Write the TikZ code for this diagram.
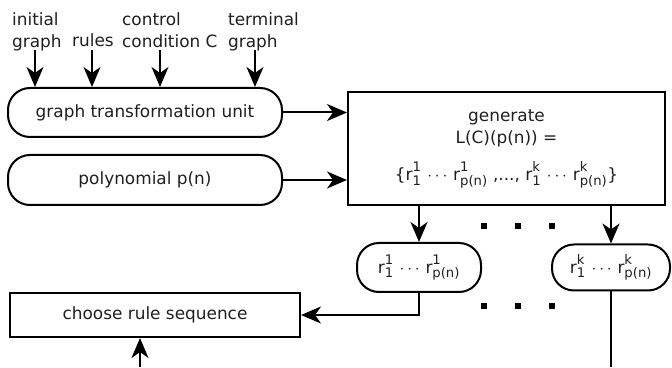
\documentclass[tikz,border=0pt]{standalone}
\usepackage{fontspec}
\setmainfont{DejaVu Sans}
\usetikzlibrary{arrows.meta}

% small text for indices
\newcommand{\ix}[1]{\mbox{\fontsize{13.2}{13}\selectfont #1}}
% one generated rule sequence r_1 ... r_p(n)
\newcommand{\rword}[1]{$\mathrm{r}^{\ix{#1}}_{\ix{1}}\,\cdots\,\mathrm{r}^{\ix{#1}}_{\ix{p(n)}}$}

\tikzset{
  every node/.style={font=\fontsize{16.9}{22}\selectfont, text=black!88},
  roundbox/.style={draw, line width=2pt, rounded corners=22pt, inner sep=0pt},
  plainbox/.style={draw, line width=2pt, inner sep=0pt},
  lbl/.style={inner sep=0pt, align=left},
  arr/.style={-{Stealth[length=20pt,width=17pt,inset=6pt]}, line width=2pt}
}

\begin{document}
\begin{tikzpicture}[x=1pt,y=1pt]
\useasboundingbox (0,0) rectangle (672,367);
\node [roundbox, minimum width=274pt, minimum height=49pt] (0) at (145,254.5) {graph transformation unit};
\node [roundbox, minimum width=274pt, minimum height=50pt] (1) at (145,187) {polynomial p(n)};
\node [plainbox, minimum width=317pt, minimum height=113pt, align=center] (2) at (506.5,218.5) {generate\\L(C)(p(n)) =\\[14pt]\{\rword{1}\ ,..., \rword{k}\}};
\node [roundbox, minimum width=124pt, minimum height=49pt] (3) at (419,99.5) {\rword{1}};
\node [roundbox, minimum width=118pt, minimum height=46pt] (4) at (611,99.5) {\rword{k}};
\node [plainbox, minimum width=290pt, minimum height=44pt] (5) at (155,52) {choose rule sequence};
\node [lbl, anchor=north west] (6) at (12,355) {initial\\graph};
\node [lbl, anchor=base west] (7) at (72,320) {rules};
\node [lbl, anchor=north west] (8) at (122,355) {control\\condition C};
\node [lbl, anchor=north west] (9) at (228,355) {terminal\\graph};
\coordinate (10) at (35,317);
\coordinate (11) at (92,317);
\coordinate (12) at (160,317);
\coordinate (13) at (255,317);
\coordinate (14) at (140,0);
\draw [arr] (10) -- (10 |- 0.north);
\draw [arr] (11) -- (11 |- 0.north);
\draw [arr] (12) -- (12 |- 0.north);
\draw [arr] (13) -- (13 |- 0.north);
\draw [arr] (0.east) -- (0.east -| 2.west);
\draw [arr] (1.east) -- (1.east -| 2.west);
\draw [arr] (3.north |- 2.south) -- (3.north);
\draw [arr] (4.north |- 2.south) -- (4.north);
\draw [arr] (3.south) -- (3.south |- 5.east) -- (5.east);
\draw [line width=2pt] (4.south) -- (4.south |- 14);
\draw [arr] (14) -- (14 |- 5.south);
\foreach \x in {484,518,552} {
  \fill (\x-3,138) rectangle (\x+3,144);
  \fill (\x-3,58) rectangle (\x+3,64);
}
\end{tikzpicture}
\end{document}
